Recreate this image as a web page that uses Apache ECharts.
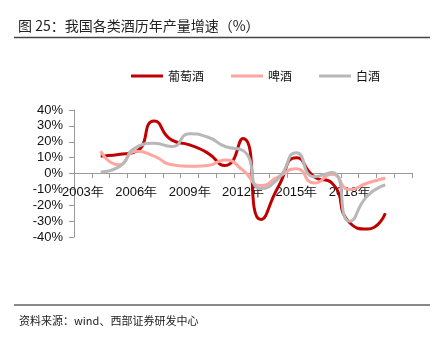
<!DOCTYPE html>
<html>
<head>
<meta charset="utf-8">
<script src="https://cdn.jsdelivr.net/npm/echarts@6/dist/echarts.min.js"></script>
<style>
html,body{margin:0;padding:0;background:#fff;}
#c{width:433px;height:341px;}
</style>
</head>
<body>
<div id="c"></div>
<script>
var categories = ['2003年','2004年','2005年','2006年','2007年','2008年','2009年','2010年','2011年','2012年','2013年','2014年','2015年','2016年','2017年','2018年','2019年','2020年','2021年'];
var wine   = [null, 11, 12, 14, 33, 21, 18, 13, 5, 22, -29, -8, 10, -2, -6, -31, -35, -25, null];
var beer   = [null, 14, 5.5, 14, 11, 5.5, 4.6, 5, 8.5, 2, -7.5, -2, 3, -6, -0.5, -10, -6, -3, null];
var baijiu = [null, 1, 4, 16.5, 19, 17, 25, 23, 17, 14.5, -9.5, -3, 13, -2, 0.6, -30, -14, -7.3, null];
var yTicks = [-40, -30, -20, -10, 0, 10, 20, 30, 40];
var seriesNames = ['葡萄酒', '啤酒', '白酒'];
var colors = ['#C00000', '#FFA6A0', '#B8B8B8'];

var chart = echarts.init(document.getElementById('c'), null, {renderer: 'canvas'});
var font = '"Liberation Sans", Arial, sans-serif';
var cjk = '"Noto Sans CJK SC", sans-serif';

function mk(name, data, color) {
  return {
    name: name, type: 'line', data: data, smooth: 0.6,
    showSymbol: false, symbol: 'none', connectNulls: false,
    lineStyle: {color: color, width: 3}, itemStyle: {color: color}
  };
}

chart.setOption({
  animation: false,
  backgroundColor: '#fff',
  title: [
    {text: '图 25：我国各类酒历年产量增速（%）', left: 13, top: 14,
     textStyle: {fontFamily: cjk, fontSize: 14, fontWeight: 'normal', color: '#222'}},
    {text: '资料来源：wind、西部证券研发中心', left: 14, top: 310,
     textStyle: {fontFamily: cjk, fontSize: 11, fontWeight: 'normal', color: '#222'}}
  ],
  graphic: [
    {type: 'line', shape: {x1: 14, y1: 37.5, x2: 430, y2: 37.5}, style: {stroke: '#444', lineWidth: 1.5}},
    {type: 'line', shape: {x1: 14, y1: 305, x2: 430, y2: 305}, style: {stroke: '#888', lineWidth: 2}}
  ],
  legend: {
    data: seriesNames, left: 126, top: 65, icon: 'rect',
    itemWidth: 32, itemHeight: 3, itemGap: 27,
    textStyle: {fontFamily: cjk, fontSize: 12, color: '#111'}
  },
  grid: {left: 74, right: 21, top: 110, bottom: 104, containLabel: false},
  xAxis: {
    type: 'category', data: categories, boundaryGap: true,
    position: 'bottom', offset: -64,
    axisLine: {onZero: false, lineStyle: {color: '#999', width: 1}},
    axisTick: {show: true, interval: 0, length: 5, lineStyle: {color: '#999'}},
    axisLabel: {
      interval: function (i) { return i % 3 === 0 && i < 18; },
      margin: 13, fontFamily: font, fontSize: 13, color: '#111'
    },
    splitLine: {show: false}
  },
  yAxis: {
    type: 'value', min: yTicks[0], max: yTicks[yTicks.length - 1], interval: 10,
    axisLine: {show: true, lineStyle: {color: '#999', width: 1}},
    axisTick: {show: true, length: 5, lineStyle: {color: '#999'}},
    axisLabel: {formatter: '{value}%', margin: 11, fontFamily: font, fontSize: 13, color: '#111'},
    splitLine: {show: false}
  },
  series: [
    mk(seriesNames[0], wine, colors[0]),
    mk(seriesNames[1], beer, colors[1]),
    mk(seriesNames[2], baijiu, colors[2])
  ]
});
</script>
</body>
</html>
